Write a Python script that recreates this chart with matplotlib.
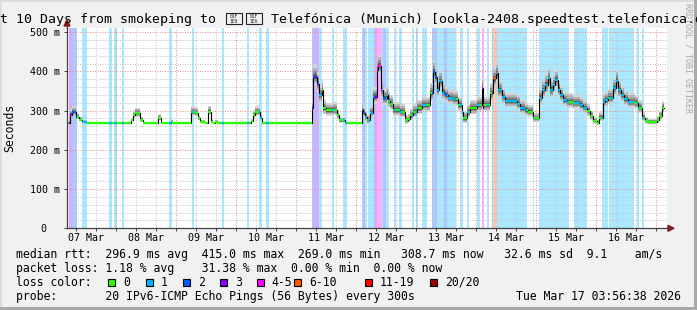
import numpy as np
import matplotlib
matplotlib.use("Agg")
import matplotlib.pyplot as plt
from matplotlib.patches import Rectangle, Polygon
from matplotlib.collections import LineCollection
from matplotlib.lines import Line2D
from matplotlib.transforms import ScaledTranslation

plt.rcParams["font.family"] = ["DejaVu Sans Mono", "DejaVu Sans"]

# --- data (time = days since 07 Mar 00:00, median rtt in ms) ---------------
med_t = [0.183, 0.233, 0.267, 0.333, 0.383, 0.433, 0.517,
         1.25, 1.283, 1.317, 1.40, 1.45,
         1.70, 1.75, 1.917, 1.95,
         2.25, 2.317, 2.367, 2.40, 2.483, 2.533, 2.583, 2.617, 2.65, 2.70,
         3.25, 3.283, 3.317, 3.40, 3.433,
         4.262, 4.289, 4.344, 4.389, 4.428, 4.456, 4.50, 4.622, 4.678, 4.722, 4.817,
         5.095, 5.122, 5.15, 5.189, 5.233, 5.289, 5.356, 5.372, 5.417, 5.456,
         5.511, 5.539, 5.567, 5.622, 5.733, 5.817, 5.872, 5.90, 5.956, 6.011,
         6.094, 6.233, 6.278, 6.317, 6.344, 6.389, 6.428, 6.483, 6.539, 6.622,
         6.706, 6.761, 6.789, 6.844, 6.90, 7.011, 7.094,
         7.111, 7.122, 7.233, 7.278, 7.333, 7.372, 7.428, 7.483, 7.678, 7.733,
         7.817, 7.872, 7.956, 8.056, 8.094, 8.15, 8.206, 8.233, 8.278, 8.317,
         8.372, 8.40, 8.456, 8.511, 8.622, 8.733, 8.789, 8.844, 8.90, 8.956,
         9.011, 9.056, 9.111, 9.15, 9.206, 9.289, 9.333, 9.372, 9.411, 9.467,
         9.539, 9.65, 9.706, 9.761, 9.817, 9.872, 10.011, 10.056, 10.094, 10.133]
med_v = [269, 290, 296, 283, 277, 272, 269,
         275, 288, 293, 276, 269,
         281, 269, 272, 269,
         296, 294, 280, 272, 269, 297, 272, 269, 272, 269,
         273, 288, 296, 282, 269,
         308, 386, 369, 339, 353, 306, 301, 302, 288, 275, 269,
         301, 295, 285, 276, 295, 335, 403, 415, 352, 332,
         339, 325, 318, 301, 297, 275, 278, 288, 297, 306,
         314, 344, 399, 385, 353, 375, 346, 339, 333, 329,
         314, 297, 280, 297, 306, 314, 357,
         306, 314, 344, 382, 395, 352, 335, 324, 318, 306,
         301, 297, 280, 333, 352, 365, 382, 353, 365, 378,
         353, 340, 327, 323, 320, 314, 308, 299, 286, 274,
         269, 282, 323, 327, 333, 357, 375, 352, 340, 329,
         323, 320, 308, 282, 274, 271, 276, 286, 308, 308]
# spread of the 20 pings above / below the median (ms)
smoke_up = [4, 13, 15, 10, 8, 5, 3,
            5, 13, 15, 8, 3,
            10, 3, 5, 3,
            15, 15, 10, 5, 3, 15, 6, 3, 5, 3,
            5, 13, 15, 10, 3,
            16, 32, 30, 26, 24, 20, 19, 19, 14, 8, 3,
            17, 17, 14, 14, 17, 25, 32, 30, 27, 25,
            25, 22, 21, 20, 20, 14, 14, 17, 20, 21,
            22, 27, 30, 27, 25, 27, 25, 22, 21, 21,
            20, 17, 17, 20, 21, 22, 27,
            20, 22, 27, 30, 27, 25, 22, 21, 21, 20,
            18, 17, 14, 25, 27, 30, 30, 27, 27, 27,
            25, 22, 21, 21, 21, 20, 18, 17, 14, 11,
            8, 14, 21, 22, 22, 27, 30, 25, 22, 21,
            21, 21, 18, 14, 11, 8, 11, 14, 17, 17]
smoke_dn = [1, 6, 8, 5, 4, 2, 1,
            2, 6, 8, 4, 1,
            5, 1, 2, 1,
            8, 8, 5, 2, 1, 8, 3, 1, 2, 1,
            2, 6, 8, 5, 1,
            12, 22, 22, 18, 18, 15, 14, 14, 10, 6, 1,
            13, 13, 11, 11, 13, 18, 22, 22, 20, 18,
            18, 16, 15, 14, 14, 9, 9, 12, 14, 15,
            16, 20, 22, 20, 18, 20, 18, 16, 15, 15,
            14, 12, 12, 14, 15, 16, 20,
            14, 15, 20, 22, 22, 18, 16, 15, 15, 14,
            14, 12, 9, 18, 20, 22, 22, 20, 20, 20,
            18, 16, 15, 15, 15, 14, 14, 12, 9, 8,
            6, 9, 15, 16, 16, 20, 22, 18, 16, 15,
            15, 15, 14, 9, 8, 6, 8, 9, 12, 12]

# periods with packet loss (start, end, loss class index)
band_t0 = [0.208, 0.258, 0.428, 0.883, 0.958, 1.095, 1.883, 2.262, 2.762, 3.178, 3.383, 3.50,
           4.258, 4.30, 4.388, 4.595, 4.783,
           5.095, 5.142, 5.20, 5.30, 5.35, 5.428, 5.455, 5.495, 5.63, 5.713, 5.928, 6.005, 6.095,
           6.267, 6.35, 6.467, 6.522, 6.733, 6.845, 7.017, 7.095, 7.175, 7.262, 7.288, 7.355,
           7.945, 8.055, 8.633, 9.105, 9.222, 9.688, 9.762]
band_t1 = [0.258, 0.35, 0.517, 0.938, 1.012, 1.133, 1.933, 2.30, 2.80, 3.217, 3.433, 3.545,
           4.30, 4.388, 4.428, 4.633, 4.842,
           5.142, 5.183, 5.30, 5.35, 5.428, 5.455, 5.495, 5.55, 5.67, 5.762, 5.97, 6.038, 6.188,
           6.35, 6.467, 6.522, 6.667, 6.775, 6.883, 7.062, 7.133, 7.217, 7.288, 7.355, 7.845,
           7.972, 8.55, 8.845, 9.205, 9.633, 9.722, 9.80]
band_lvl = [3, 2, 1, 1, 1, 1, 1, 1, 1, 1, 1, 1,
            2, 3, 1, 1, 1,
            2, 1, 1, 3, 4, 1, 2, 1, 1, 1, 1, 1, 1,
            2, 1, 2, 1, 1, 1, 1, 4, 1, 2, 5, 1,
            1, 1, 1, 1, 1, 1, 1]

loss_labels = ["0", "1", "2", "3", "4-5", "6-10", "11-19", "20/20"]
loss_colors = ["#26ff00", "#00b8ff", "#0059ff", "#7e00ff", "#ff00ff", "#ff5500", "#ff0000", "#a10000"]
day_labels = ["07 Mar", "08 Mar", "09 Mar", "10 Mar", "11 Mar",
              "12 Mar", "13 Mar", "14 Mar", "15 Mar", "16 Mar"]

# title: the flag (U+1F1E9 U+1F1EA) has no glyph in any installed font -> drawn as tofu boxes
title_left = "Last 10 Days from smokeping to"
title_flag = ["01F\n1E9", "01F\n1EA"]
title_right = "Telefónica (Munich) [ookla-2408.speedtest.telefonica.de]"
stats_rtt = "median rtt:  296.9 ms avg  415.0 ms max  269.0 ms min   308.7 ms now   32.6 ms sd  9.1    am/s"
stats_loss = "packet loss: 1.18 % avg    31.38 % max  0.00 % min  0.00 % now"
probe_txt = "probe:       20 IPv6-ICMP Echo Pings (56 Bytes) every 300s"
stamp_txt = "Tue Mar 17 03:56:38 2026"

assert len(med_t) == len(med_v) == len(smoke_up) == len(smoke_dn)

# --- layout in pixels -------------------------------------------------------
W, H = 697, 310
fx = lambda x: x / W
fy = lambda y: 1 - y / H
BG = "#f1f1f1"; AXC = "#404040"; ARR = "#8b1a1a"

fig = plt.figure(figsize=(W / 100, H / 100), dpi=100, facecolor=BG)
ax = fig.add_axes([fx(67), fy(228.3), fx(600), (228.3 - 28.3) / H])
ax.set_xlim(0.183, 10.183); ax.set_ylim(0, 510)
ax.set_facecolor("white")

# loss bands
for a, b, l in zip(band_t0, band_t1, band_lvl):
    ax.axvspan(a, b, color=loss_colors[l], alpha=0.33, lw=0, zorder=0.5)

# grid
for v in range(20, 510, 20):
    ax.axhline(v, color="#e89090" if v % 100 == 0 else "#c4c4c4", lw=0.72, ls=(0, (1, 1.5)), zorder=1)
for k in range(1, 31):
    ax.axvline(k / 3, color="#e89090" if k % 3 == 0 else "#c4c4c4", lw=0.72, ls=(0, (1, 1.5)), zorder=1)

t = np.array(med_t); v = np.array(med_v, float)
up = np.array(smoke_up, float); dn = np.array(smoke_dn, float)
# smoke
for f, c in [(1.0, "#d4d4d4"), (0.75, "#b4b4b4"), (0.5, "#8e8e8e"), (0.25, "#5c5c5c")]:
    ax.fill_between(t, v - dn * f, v + up * f, step="post", color=c, lw=0, zorder=2)

# median, coloured by loss class
ax.step(t, v, where="post", color="black", lw=0.8, zorder=3)
segs = [[(t[i], v[i]), (t[i + 1], v[i])] for i in range(len(t) - 1)]
ax.add_collection(LineCollection(segs, colors=loss_colors[0], linewidths=1.6, zorder=4))
for a, b, l in zip(band_t0, band_t1, band_lvl):
    lc = LineCollection(segs, colors=loss_colors[l], linewidths=1.6, zorder=4)
    ax.add_collection(lc)
    lc.set_clip_path(Rectangle((a, 0), b - a, 510, transform=ax.transData))

# axes
for s in ["top", "right"]:
    ax.spines[s].set_visible(False)
for s in ["left", "bottom"]:
    ax.spines[s].set_color(AXC); ax.spines[s].set_linewidth(0.9); ax.spines[s].set_zorder(5)
ax.set_yticks(range(0, 501, 100), ["0", "100 m", "200 m", "300 m", "400 m", "500 m"])
ax.tick_params(axis="y", direction="out", length=2, width=0.7, color=AXC, pad=3.4, labelsize=7.2)
ax.set_xticks([d + 0.5 for d in range(10)], day_labels)
ax.set_xticks([k / 3 for k in range(1, 31)], minor=True)
ax.tick_params(axis="x", which="major", length=0, pad=3.2, labelsize=7.2)
ax.tick_params(axis="x", which="minor", direction="out", length=2, width=0.7, color=AXC)
zero = ax.get_yticklabels()[0]
zero.set_transform(zero.get_transform() + ScaledTranslation(-0.13, 0, fig.dpi_scale_trans))

# axis extensions + arrows
fig.add_artist(Line2D([fx(67), fx(67)], [fy(28.3), fy(25)], color=AXC, lw=0.9))
fig.add_artist(Polygon([(fx(64), fy(26)), (fx(70), fy(26)), (fx(67), fy(20))], closed=True,
                       transform=fig.transFigure, color=ARR))
fig.add_artist(Line2D([fx(667), fx(669)], [fy(228.3), fy(228.3)], color=AXC, lw=0.9))
fig.add_artist(Polygon([(fx(668), fy(225.3)), (fx(668), fy(231.3)), (fx(674), fy(228.3))], closed=True,
                       transform=fig.transFigure, color=ARR))

# title
fig.text(fx(216), fy(19), title_left, ha="right", va="center", fontsize=9.56)
for bx, hx in zip([226, 246], title_flag):
    fig.add_artist(Rectangle((fx(bx), fy(24)), 16 / W, 10.5 / H, transform=fig.transFigure,
                             fc="none", ec="#222222", lw=0.8))
    fig.text(fx(bx + 8), fy(18.7), hx, ha="center", va="center", fontsize=3.3,
             linespacing=0.95, color="#222222")
fig.text(fx(271), fy(19), title_right, ha="left", va="center", fontsize=9.56)

fig.text(fx(10), fy(128), "Seconds", rotation=90, ha="center", va="center", fontsize=8.3)
fig.text(fx(688), fy(58), "RRDTOOL / TOBI OETIKER", rotation=270, ha="center", va="center",
         fontsize=6, color="#a8a8a8")

# legend block
fig.text(fx(16), fy(254.3), stats_rtt, va="center", fontsize=8.3)
fig.text(fx(16), fy(268.3), stats_loss, va="center", fontsize=8.3)
fig.text(fx(16), fy(282.3), "loss color:", va="center", fontsize=8.3)
sq_x = [108.3, 145.7, 182.7, 220, 256.7, 294, 365, 430]
for x, lab, c in zip(sq_x, loss_labels, loss_colors):
    fig.add_artist(Rectangle((fx(x), fy(286)), 7 / W, 7 / H, transform=fig.transFigure,
                             fc=c, ec="black", lw=0.8))
    fig.text(fx(x + 15), fy(282.3), lab, va="center", fontsize=8.3)
fig.text(fx(16), fy(296.3), probe_txt, va="center", fontsize=8.3)
fig.text(fx(681), fy(296.3), stamp_txt, ha="right", va="center", fontsize=8.3)

# 3d frame shade
fig.add_artist(Rectangle((0, 1 - 2 / H), 1, 2 / H, transform=fig.transFigure, fc="#dcdcdc", lw=0))
fig.add_artist(Rectangle((0, 0), 2 / W, 1, transform=fig.transFigure, fc="#dcdcdc", lw=0))
fig.add_artist(Rectangle((1 - 3 / W, 0), 3 / W, 1, transform=fig.transFigure, fc="#a8a8a8", lw=0))
fig.add_artist(Rectangle((0, 0), 1, 3 / H, transform=fig.transFigure, fc="#a8a8a8", lw=0))

fig.savefig("out.png", dpi=100, facecolor=BG)
